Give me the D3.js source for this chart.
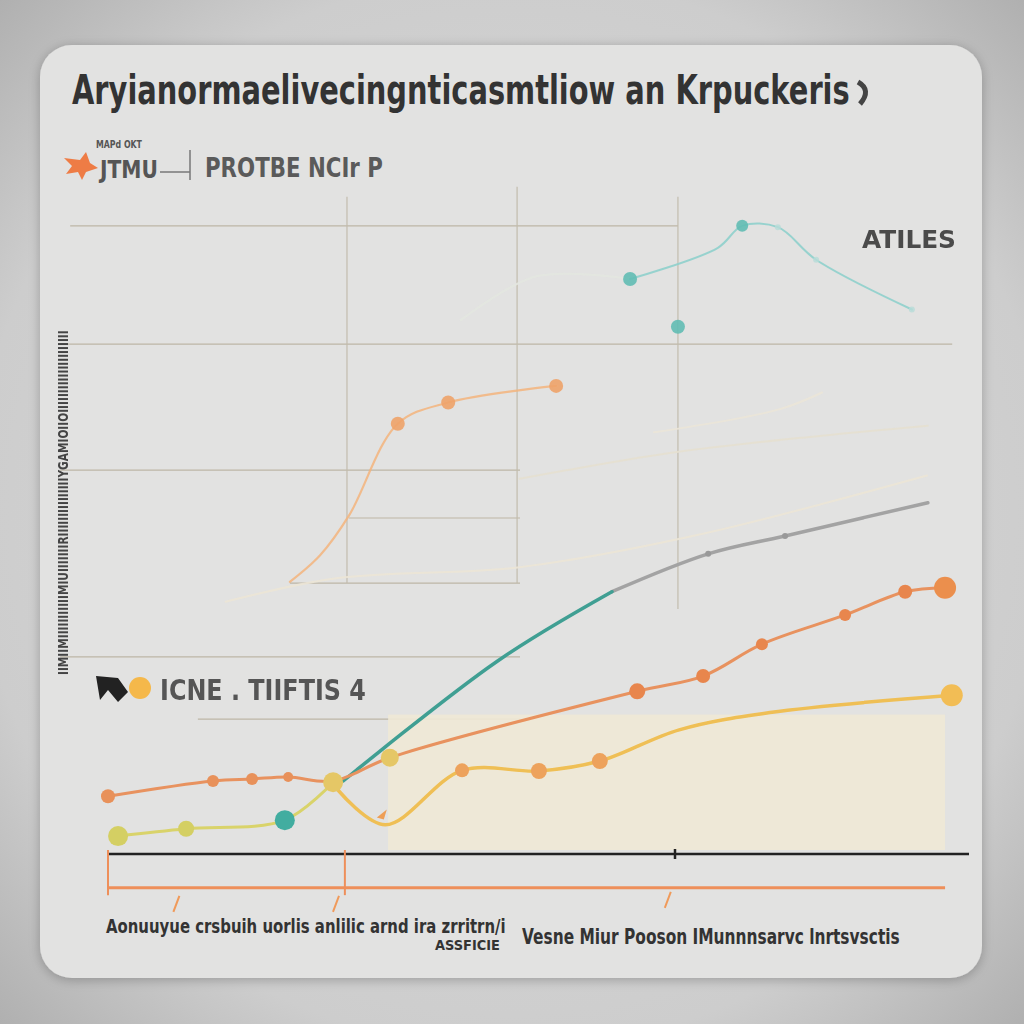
<!DOCTYPE html>
<html><head><meta charset="utf-8">
<script src="https://cdn.jsdelivr.net/npm/d3@7/dist/d3.min.js"></script>
<style>
html,body{margin:0;padding:0;width:1024px;height:1024px;overflow:hidden;background:#cfcfcf;}
svg{display:block;}
</style></head>
<body>
<script>
// ---- data (x in period units 0..20, y in value units 0..100) ----
const titleText = "Aryianormaelivecingnticasmtliow an Krpuckeris";
const legendTop = "PROTBE NCIr P";
const legendSmall1 = "MAPd OKT";
const legendSmall2 = "JTMU";
const legendBottom = "ICNE . TIIFTIS 4";
const sideLabel = "ATILES";
const yAxisTitle = "IIMIIMIIIIIIIIIIIMIUIIIIIIIRIIIIIIIIIIIIIIIYGAMIOIIOIIIIIIIIIIIIIIIIIIIII";
const xLabelMain = "Aonuuyue crsbuih uorlis anlilic arnd ira zrritrn/i";
const xLabelSub = "ASSFICIE";
const xLabelRight = "Vesne Miur Pooson IMunnnsarvc lnrtsvsctis";

const orangeX = [0, 2.5, 3.43, 4.29, 5.36, 6.71, 12.6, 14.17, 15.57, 17.55, 18.98, 19.93];
const orangeY = [8.7, 11.0, 11.3, 11.6, 11.0, 14.5, 24.5, 26.8, 31.6, 36.0, 39.5, 40.1];

const yellowAX = [0.24, 1.86, 4.21, 5.36];
const yellowAY = [2.7, 3.8, 5.1, 10.8];
const yellowBX = [5.48, 6.6, 8.43, 10.26, 11.71, 13.6, 15.76, 20.09];
const yellowBY = [9.6, 4.4, 12.6, 12.5, 14.0, 18.7, 21.3, 23.9];

const tealX = [5.6, 9.26, 12.0];
const tealY = [11.0, 29.0, 39.5];
const grayX = [12.0, 14.29, 16.12, 19.52];
const grayY = [39.5, 45.2, 47.9, 52.9];
const tealDotX = [4.21];
const tealDotY = [5.1];

const peachX = [4.33, 5.05, 5.74, 6.9, 8.1, 10.67];
const peachY = [41.0, 45.0, 51.0, 64.8, 68.0, 70.5];

const aquaX = [8.4, 10.2, 12.43, 14.52, 15.1, 15.95, 16.86, 19.14];
const aquaY = [80.4, 87.0, 86.6, 91.3, 94.6, 94.4, 89.5, 82.0];
const aquaDotX = [12.43, 13.57, 15.1];
const aquaDotY = [86.6, 79.4, 94.6];

const faint1X = [2.8, 5.4, 9.8, 14.0, 19.5];
const faint1Y = [38.0, 41.5, 43.2, 48.0, 57.0];
const faint2X = [9.8, 13.5, 17.0, 19.52];
const faint2Y = [56.5, 60.5, 63.0, 64.5];
const faint3X = [13.0, 16.0, 17.0];
const faint3Y = [63.5, 67.0, 69.5];

const hGrid = [ {y:94.6, x0:-0.9, x1:13.57}, {y:76.8, x0:-1.14, x1:20.1}, {y:57.8, x0:-1.14, x1:9.81},
                {y:50.6, x0:5.74, x1:9.81}, {y:40.8, x0:4.33, x1:9.81}, {y:29.7, x0:-1.14, x1:9.81},
                {y:20.3, x0:2.14, x1:9.81} ];
const vGrid = [ {x:5.69, y0:40.8, y1:99.0}, {x:9.74, y0:40.8, y1:100.5}, {x:13.57, y0:36.9, y1:99.0} ];

// ---- drawing ----
const W = 1024, H = 1024;
const svg = d3.select("body").append("svg").attr("width", W).attr("height", H);
const defs = svg.append("defs");
const rg = defs.append("radialGradient").attr("id","vig").attr("cx","50%").attr("cy","50%").attr("r","75%");
rg.append("stop").attr("offset","0%").attr("stop-color","#dcdcdc");
rg.append("stop").attr("offset","70%").attr("stop-color","#cdcdcd");
rg.append("stop").attr("offset","100%").attr("stop-color","#a9a9a9");
const f = defs.append("filter").attr("id","sh").attr("x","-10%").attr("y","-10%").attr("width","120%").attr("height","120%");
f.append("feGaussianBlur").attr("in","SourceAlpha").attr("stdDeviation",6);
f.append("feOffset").attr("dx",0).attr("dy",2).attr("result","b");
f.append("feComponentTransfer").append("feFuncA").attr("type","linear").attr("slope",0.25);
const fm = f.append("feMerge"); fm.append("feMergeNode"); fm.append("feMergeNode").attr("in","SourceGraphic");
const blur = defs.append("filter").attr("id","soft"); blur.append("feGaussianBlur").attr("stdDeviation",0.6);

svg.append("rect").attr("width",W).attr("height",H).attr("fill","url(#vig)");
svg.append("rect").attr("x",40).attr("y",45).attr("width",942).attr("height",933).attr("rx",32)
  .attr("fill","#e2e2e1").attr("filter","url(#sh)");

const x = d3.scaleLinear().domain([0,20]).range([108,948]);
const y = d3.scaleLinear().domain([0,100]).range([854,190]);

const font = "'DejaVu Sans', sans-serif";
const g = svg.append("g").attr("filter","url(#soft)");

// grid
g.selectAll(".hg").data(hGrid).join("line")
  .attr("x1",d=>x(d.x0)).attr("x2",d=>x(d.x1)).attr("y1",d=>y(d.y)).attr("y2",d=>y(d.y))
  .attr("stroke","#bdb6a6").attr("stroke-width",1.2);
g.selectAll(".vg").data(vGrid).join("line")
  .attr("x1",d=>x(d.x)).attr("x2",d=>x(d.x)).attr("y1",d=>y(d.y0)).attr("y2",d=>y(d.y1))
  .attr("stroke","#c2bcad").attr("stroke-width",1.2);

// cream area
g.append("rect").attr("x",x(6.67)).attr("y",y(21.0)).attr("width",x(19.93)-x(6.67)).attr("height",y(0.6)-y(21.0))
  .attr("fill","#efe9d6").attr("opacity",0.9);

const pts = (xs,ys)=>xs.map((v,i)=>[x(v),y(ys[i])]);
const line = d3.line().curve(d3.curveCatmullRom.alpha(0.5));

function drawLine(xs,ys,color,w,op){
  g.append("path").attr("d",line(pts(xs,ys))).attr("fill","none").attr("stroke",color)
   .attr("stroke-width",w).attr("opacity",op).attr("stroke-linecap","round");
}
function drawDots(xs,ys,color,rs,op){
  g.selectAll(null).data(pts(xs,ys)).join("circle").attr("cx",d=>d[0]).attr("cy",d=>d[1])
   .attr("r",(d,i)=>Array.isArray(rs)?rs[i]:rs).attr("fill",color).attr("opacity",op);
}

drawLine(faint1X,faint1Y,"#ece6d6",2,0.9);
drawLine(faint2X,faint2Y,"#e6e0d0",2,0.9);
drawLine(faint3X,faint3Y,"#ebe6d8",2,0.9);

drawLine(peachX,peachY,"#f3b47c",2.2,0.85);
drawDots(peachX.slice(3),peachY.slice(3),"#eea36a",7,0.9);

drawLine(aquaX.slice(0,3),aquaY.slice(0,3),"#e3e7e0",2,0.9);
drawLine(aquaX.slice(2),aquaY.slice(2),"#8fd0cc",2,0.9);
drawDots(aquaDotX,aquaDotY,"#62bcb4",[7,7,6],0.9);
drawDots([15.95,16.86,19.14],[94.4,89.5,82.0],"#b8dcd8",3,0.8);

drawLine(grayX,grayY,"#a3a3a3",3.5,1);
drawLine(tealX,tealY,"#3f9f93",3.5,1);
drawDots(grayX.slice(1,3),grayY.slice(1,3),"#999",3,1);

drawLine(orangeX,orangeY,"#e8925e",3,1);
drawDots(orangeX.slice(0,4),orangeY.slice(0,4),"#e8915a",[7,6,6,5],1);
drawDots(orangeX.slice(6,11),orangeY.slice(6,11),"#e8864e",[8,7,6,6,7],1);
drawDots([orangeX[11]],[orangeY[11]],"#eb8f4e",11,1);

drawLine(yellowAX,yellowAY,"#d9d36a",3,1);
drawLine(yellowBX,yellowBY,"#efbf55",3.5,1);
drawDots(yellowAX.slice(0,2),yellowAY.slice(0,2),"#d4cf64",[10,8],1);
drawDots([5.36,6.71],[10.8,14.5],"#e5c766",[10,9],1);
drawDots([8.43,10.26,11.71],[12.6,12.5,14.0],"#eda25c",[7,8,8],1);
drawDots([20.09],[23.9],"#f2bd55",11,1);
drawDots(tealDotX,tealDotY,"#42ada0",10,1);
g.append("path").attr("d",`M${x(6.4)},${y(5.5)} l10,-8 l-3,10 z`).attr("fill","#ee9e55");

// axes
g.append("line").attr("x1",x(0)).attr("x2",x(20.5)).attr("y1",y(0)).attr("y2",y(0)).attr("stroke","#222").attr("stroke-width",2.5);
g.append("line").attr("x1",x(13.5)).attr("x2",x(13.5)).attr("y1",y(0)-5).attr("y2",y(0)+5).attr("stroke","#222").attr("stroke-width",2.5);
g.append("line").attr("x1",x(0)).attr("x2",x(19.93)).attr("y1",y(-5.1)).attr("y2",y(-5.1)).attr("stroke","#ee8f5a").attr("stroke-width",3);
[0,5.64].forEach(v=>g.append("line").attr("x1",x(v)).attr("x2",x(v)).attr("y1",y(0.6)).attr("y2",y(-6.2)).attr("stroke","#ee8f5a").attr("stroke-width",2));
[[1.7,-6.3],[5.5,-6.3],[13.4,-5.7]].forEach(p=>g.append("line").attr("x1",x(p[0])).attr("y1",y(p[1])).attr("x2",x(p[0])-6).attr("y2",y(p[1])+16).attr("stroke","#f09a5a").attr("stroke-width",2));

// texts: fitted horizontally with a scale transform so the box equals the drawn width
function fitText(str, tx, ty, size, width, color, rot){
  const t = svg.append("text").text(str).attr("font-family",font).attr("font-weight","bold")
    .attr("font-size",size).attr("fill",color);
  const w = t.node().getComputedTextLength();
  const sx = width / w;
  t.attr("transform", `translate(${tx},${ty})` + (rot ? ` rotate(${rot})` : "") + ` scale(${sx},1)`);
  return t;
}

fitText(titleText, 72, 104, 40, 778, "#333");
svg.append("path").attr("d","M858,82 q14,8 2,22").attr("fill","none").attr("stroke","#444").attr("stroke-width",5);

// top legend
svg.append("path").attr("d","M64,158 L80,160 L86,152 L90,163 L98,168 L86,172 L82,180 L78,172 L66,174 L72,166 Z").attr("fill","#ee7c45");
fitText(legendSmall1, 96, 148, 11, 46, "#555");
fitText(legendSmall2, 100, 178, 24, 58, "#555");
svg.append("line").attr("x1",160).attr("x2",190).attr("y1",172).attr("y2",172).attr("stroke","#777").attr("stroke-width",1.5);
svg.append("line").attr("x1",190).attr("x2",190).attr("y1",150).attr("y2",180).attr("stroke","#777").attr("stroke-width",1.5);
fitText(legendTop, 205, 177, 26, 178, "#5a5a5a");

fitText(sideLabel, 862, 248, 24, 94, "#4a4a4a");

// bottom-left legend
svg.append("path").attr("d","M96,676 L118,678 L128,692 L118,702 L108,690 L100,700 Z").attr("fill","#222");
svg.append("circle").attr("cx",140).attr("cy",688).attr("r",11).attr("fill","#f5b84a");
fitText(legendBottom, 160, 700, 28, 206, "#555");

// y axis title
fitText(yAxisTitle, 68, 675, 14, 345, "#444", -90);

// x labels
fitText(xLabelMain, 106, 933, 19, 400, "#333");
fitText(xLabelSub, 435, 950, 14, 65, "#333");
fitText(xLabelRight, 522, 944, 21, 378, "#333");
</script>
</body></html>
